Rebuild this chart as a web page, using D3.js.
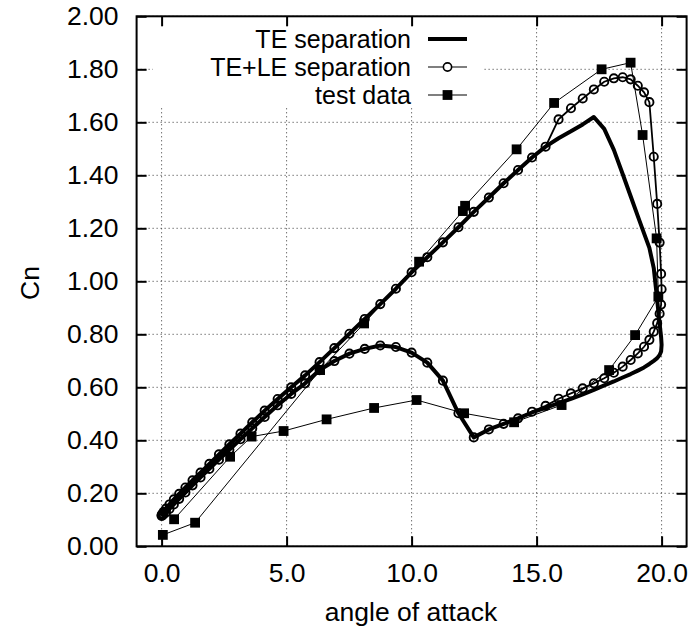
<!DOCTYPE html>
<html>
<head>
<meta charset="utf-8">
<script src="https://cdn.jsdelivr.net/npm/d3@7"></script>
<style>
  body { margin: 0; background: #fff; }
  svg text { font-family: "Liberation Sans", Arial, Helvetica, sans-serif; fill: #000; }
</style>
</head>
<body>
<svg id="chart" width="688" height="630"></svg>
<script>
// Angle of attack over one pitching cycle (up to 20 deg and back down)
const alpha = [
  0.000, 0.020, 0.079, 0.177, 0.314, 0.489, 0.702, 0.952, 1.237, 1.557,
  1.910, 2.295, 2.710, 3.155, 3.626, 4.122, 4.642, 5.183, 5.742, 6.319,
  6.910, 7.513, 8.126, 8.747, 9.372, 10.000, 10.628, 11.253, 11.874, 12.487,
  13.090, 13.681, 14.258, 14.817, 15.358, 15.878, 16.374, 16.845, 17.290, 17.705,
  18.090, 18.443, 18.763, 19.048, 19.298, 19.511, 19.686, 19.823, 19.921, 19.980,
  20.000,
  19.980, 19.921, 19.823, 19.686, 19.511, 19.298, 19.048, 18.763, 18.443, 18.090,
  17.705, 17.290, 16.845, 16.374, 15.878, 15.358, 14.817, 14.258, 13.681, 13.090,
  12.487, 11.874, 11.253, 10.628, 10.000, 9.372, 8.747, 8.126, 7.513, 6.910,
  6.319, 5.742, 5.183, 4.642, 4.122, 3.626, 3.155, 2.710, 2.295, 1.910,
  1.557, 1.237, 0.952, 0.702, 0.489, 0.314, 0.177, 0.079, 0.020, 0.000
];

// Normal force coefficient, trailing-edge separation model
const cnTE = [
  0.118, 0.122, 0.130, 0.142, 0.158, 0.177, 0.198, 0.222, 0.249, 0.278,
  0.311, 0.347, 0.385, 0.425, 0.468, 0.512, 0.556, 0.600, 0.645, 0.695,
  0.748, 0.802, 0.858, 0.914, 0.972, 1.034, 1.091, 1.147, 1.204, 1.262,
  1.316, 1.370, 1.420, 1.467, 1.508, 1.540, 1.566, 1.592, 1.620, 1.575,
  1.496, 1.405, 1.321, 1.246, 1.181, 1.126, 1.050, 0.930, 0.840, 0.790,
  0.760,
  0.735, 0.722, 0.710, 0.700, 0.688, 0.675, 0.663, 0.650, 0.637, 0.622,
  0.607, 0.590, 0.573, 0.556, 0.540, 0.522, 0.505, 0.483, 0.462, 0.441,
  0.411, 0.502, 0.625, 0.693, 0.731, 0.752, 0.758, 0.745, 0.727, 0.699,
  0.665, 0.615, 0.575, 0.532, 0.488, 0.445, 0.404, 0.364, 0.327, 0.292,
  0.260, 0.230, 0.203, 0.179, 0.158, 0.141, 0.128, 0.120, 0.116, 0.115
];

// Normal force coefficient, trailing- plus leading-edge separation model
const cnTELE = [
  0.118, 0.122, 0.130, 0.142, 0.158, 0.177, 0.198, 0.222, 0.249, 0.278,
  0.311, 0.347, 0.385, 0.425, 0.468, 0.512, 0.556, 0.600, 0.645, 0.695,
  0.748, 0.802, 0.858, 0.914, 0.972, 1.034, 1.091, 1.147, 1.204, 1.262,
  1.316, 1.370, 1.420, 1.467, 1.508, 1.611, 1.653, 1.690, 1.724, 1.753,
  1.766, 1.770, 1.762, 1.738, 1.713, 1.676, 1.470, 1.292, 1.146, 1.028,
  0.970,
  0.912, 0.878, 0.842, 0.810, 0.779, 0.753, 0.728, 0.703, 0.678, 0.655,
  0.634, 0.615, 0.596, 0.577, 0.557, 0.530, 0.508, 0.483, 0.462, 0.441,
  0.411, 0.502, 0.625, 0.693, 0.731, 0.752, 0.758, 0.745, 0.727, 0.699,
  0.665, 0.615, 0.575, 0.532, 0.488, 0.445, 0.404, 0.364, 0.327, 0.292,
  0.260, 0.230, 0.203, 0.179, 0.158, 0.141, 0.128, 0.120, 0.116, 0.115
];

// Measured data
const testAlpha = [0.05, 1.34, 6.34, 8.10, 10.30, 12.05, 12.14, 14.20, 15.70, 17.60,
  18.76, 19.24, 19.80, 19.87, 18.94, 17.90, 16.00, 14.10, 12.10, 10.20,
  8.50, 6.60, 4.88, 3.60, 2.74, 0.50];
const testCn = [0.043, 0.089, 0.665, 0.841, 1.074, 1.265, 1.285, 1.498, 1.673, 1.800,
  1.825, 1.552, 1.162, 0.942, 0.797, 0.665, 0.533, 0.468, 0.502, 0.552,
  0.522, 0.479, 0.435, 0.414, 0.338, 0.102];

const xTicks = [0, 5, 10, 15, 20];
const yTicks = [0, 0.2, 0.4, 0.6, 0.8, 1.0, 1.2, 1.4, 1.6, 1.8, 2.0];
const seriesNames = ["TE separation", "TE+LE separation", "test data"];

const svg = d3.select("#chart");
const fontSize = 26.5;
const keyFontSize = 25;
const plot = { left: 136.6, right: 686.6, top: 16.3, bottom: 546.3 };

const x = d3.scaleLinear().domain([-1, 21]).range([plot.left, plot.right]);
const y = d3.scaleLinear().domain([0, 2]).range([plot.bottom, plot.top]);

// dotted grid
const grid = svg.append("g").attr("stroke", "#333").attr("stroke-width", 1)
  .attr("stroke-dasharray", "1,3");
grid.selectAll("line.v").data(xTicks).join("line")
  .attr("x1", d => x(d)).attr("x2", d => x(d))
  .attr("y1", plot.top).attr("y2", plot.bottom);
grid.selectAll("line.h").data(yTicks).join("line")
  .attr("x1", plot.left).attr("x2", plot.right)
  .attr("y1", d => y(d)).attr("y2", d => y(d));

// opaque key background
const key = { x0: 153, x1: 483, y0: plot.top, y1: 108 };
svg.append("rect").attr("x", key.x0).attr("y", key.y0)
  .attr("width", key.x1 - key.x0).attr("height", key.y1 - key.y0).attr("fill", "#fff");

// axes with inward ticks on all four sides
function styleAxis(g) {
  g.select(".domain").remove();
  g.selectAll(".tick line").attr("stroke", "#000").attr("stroke-width", 2);
  g.selectAll(".tick text").attr("font-size", fontSize).attr("font-family", null);
}
svg.append("g").attr("transform", `translate(0,${plot.bottom})`)
  .call(d3.axisBottom(x).tickValues(xTicks).tickFormat(d3.format(".1f")).tickSizeInner(-10).tickPadding(17))
  .call(styleAxis);
svg.append("g").attr("transform", `translate(${plot.left},0)`)
  .call(d3.axisLeft(y).tickValues(yTicks).tickFormat(d3.format(".2f")).tickSizeInner(-10).tickPadding(18))
  .call(styleAxis);
svg.append("g").attr("transform", `translate(0,${plot.top})`)
  .call(d3.axisTop(x).tickValues(xTicks).tickFormat("").tickSizeInner(-10))
  .call(styleAxis);
svg.append("g").attr("transform", `translate(${plot.right},0)`)
  .call(d3.axisRight(y).tickValues(yTicks).tickFormat("").tickSizeInner(-10))
  .call(styleAxis);

svg.append("rect").attr("x", plot.left).attr("y", plot.top)
  .attr("width", plot.right - plot.left).attr("height", plot.bottom - plot.top)
  .attr("fill", "none").attr("stroke", "#000").attr("stroke-width", 2);

// axis titles
svg.append("text").attr("x", 411).attr("y", 621).attr("text-anchor", "middle")
  .attr("font-size", fontSize).text("angle of attack");
svg.append("text").attr("transform", "translate(39,283) rotate(-90)")
  .attr("text-anchor", "middle").attr("font-size", fontSize).text("Cn");

// series
const model = alpha.map((a, i) => ({ a, te: cnTE[i], tele: cnTELE[i] }));
const test = testAlpha.map((a, i) => ({ a, c: testCn[i] }));

svg.append("clipPath").attr("id", "plotclip").append("rect")
  .attr("x", plot.left).attr("y", plot.top)
  .attr("width", plot.right - plot.left).attr("height", plot.bottom - plot.top);

const series = svg.append("g").attr("clip-path", "url(#plotclip)");

const lineTest = d3.line().x(d => x(d.a)).y(d => y(d.c));
series.append("path").datum(test).attr("d", lineTest)
  .attr("fill", "none").attr("stroke", "#000").attr("stroke-width", 1);

const markR = 4.1;
const lineTELE = d3.line().x(d => x(d.a)).y(d => y(d.tele));
series.append("path").datum(model).attr("d", lineTELE)
  .attr("fill", "none").attr("stroke", "#000").attr("stroke-width", 1.8);
series.selectAll("circle.m").data(model).join("circle")
  .attr("cx", d => x(d.a)).attr("cy", d => y(d.tele)).attr("r", markR)
  .attr("fill", "none").attr("stroke", "#000").attr("stroke-width", 1.9);

const lineTE = d3.line().x(d => x(d.a)).y(d => y(d.te));
series.append("path").datum(model).attr("d", lineTE)
  .attr("fill", "none").attr("stroke", "#000").attr("stroke-width", 4)
  .attr("stroke-linejoin", "round");

const sq = 9.8;
series.selectAll("rect.t").data(test).join("rect")
  .attr("x", d => x(d.a) - sq / 2).attr("y", d => y(d.c) - sq / 2)
  .attr("width", sq).attr("height", sq).attr("fill", "#000");

// key
const keyRows = [39, 67, 95];
const sample = { x0: 428, x1: 467, textX: 411 };
keyRows.forEach((ry, i) => {
  svg.append("text").attr("x", sample.textX).attr("y", ry + keyFontSize * 0.36)
    .attr("text-anchor", "end").attr("font-size", keyFontSize).text(seriesNames[i]);
  svg.append("line").attr("x1", sample.x0).attr("x2", sample.x1)
    .attr("y1", ry).attr("y2", ry).attr("stroke", "#000")
    .attr("stroke-width", i === 0 ? 4 : 1.2);
  const mx = (sample.x0 + sample.x1) / 2;
  if (i === 1) {
    svg.append("circle").attr("cx", mx).attr("cy", ry).attr("r", markR)
      .attr("fill", "#fff").attr("stroke", "#000").attr("stroke-width", 1.6);
  } else if (i === 2) {
    svg.append("rect").attr("x", mx - sq / 2).attr("y", ry - sq / 2)
      .attr("width", sq).attr("height", sq).attr("fill", "#000");
  }
});
</script>
</body>
</html>
